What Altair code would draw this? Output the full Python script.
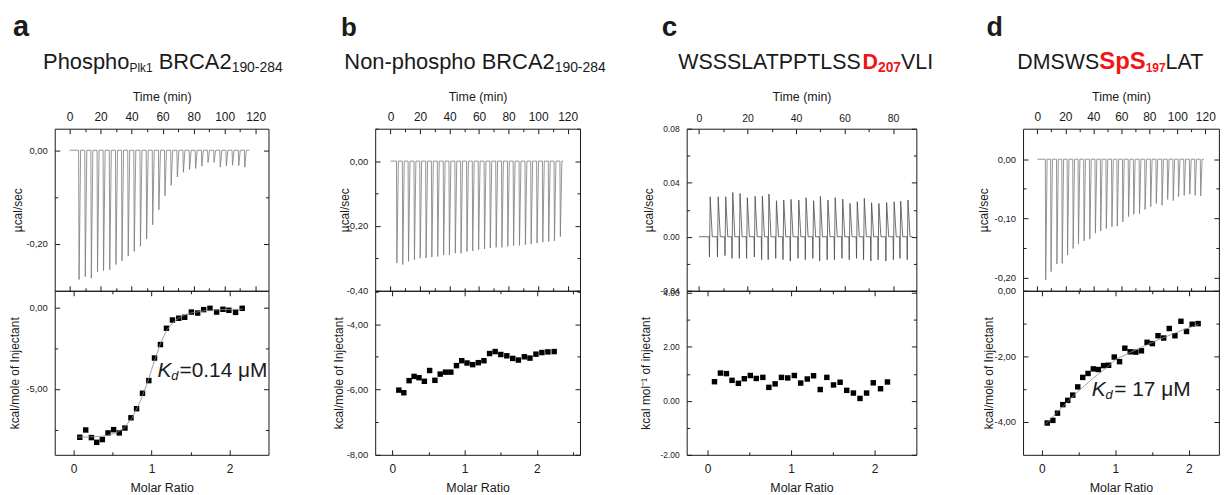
import json
import altair as alt
import pandas as pd

FONT = "Liberation Sans"
INK = "#1a1a1a"
TRACE = "#7a7a7a"
RED = "#f01414"

# ---------------- panel a : Phospho(Plk1) BRCA2 190-284 ----------------
a_inj_t = [5.8, 9.8, 13.7, 17.7, 21.6, 25.6, 29.6, 33.5, 37.5, 41.4, 45.4, 49.4, 53.3, 57.3,
           61.2, 65.2, 69.2, 73.1, 77.1, 81.0, 85.0, 89.0, 92.9, 96.9, 100.8, 104.8, 108.8, 112.7]
a_inj_peak = [-0.276, -0.270, -0.273, -0.260, -0.257, -0.255, -0.244, -0.236, -0.226, -0.216,
              -0.205, -0.189, -0.159, -0.127, -0.097, -0.075, -0.057, -0.047, -0.041, -0.039,
              -0.034, -0.026, -0.026, -0.036, -0.033, -0.032, -0.033, -0.036]
a_mr = [0.081, 0.157, 0.230, 0.298, 0.370, 0.443, 0.515, 0.587, 0.660, 0.737, 0.809, 0.885, 0.966, 1.039,
        1.115, 1.192, 1.269, 1.350, 1.426, 1.511, 1.592, 1.669, 1.750, 1.835, 1.916, 1.992, 2.078, 2.163]
a_heat = [-7.98, -7.53, -8.00, -8.29, -8.12, -7.71, -7.51, -7.71, -7.41, -6.78, -6.22, -5.27, -4.49, -3.10,
          -2.27, -1.27, -0.76, -0.65, -0.59, -0.27, -0.33, -0.12, -0.04, -0.27, -0.10, -0.16, -0.29, -0.04]
a_fit_mr = [0.05, 0.2, 0.35, 0.45, 0.55, 0.65, 0.75, 0.85, 0.95, 1.05, 1.12, 1.2, 1.3, 1.4, 1.5, 1.7, 1.9, 2.17]
a_fit = [-7.97, -7.96, -7.92, -7.85, -7.7, -7.4, -6.8, -5.85, -4.6, -3.1, -2.15, -1.35, -0.8, -0.5,
         -0.33, -0.18, -0.12, -0.09]

# ---------------- panel b : Non-phospho BRCA2 190-284 ----------------
b_inj_t = [4.0, 8.0, 11.9, 15.9, 19.8, 23.8, 27.7, 31.7, 35.7, 39.6, 43.6, 47.5, 51.5, 55.4, 59.4,
           63.4, 67.3, 71.3, 75.2, 79.2, 83.1, 87.1, 91.1, 95.0, 99.0, 102.9, 106.9, 110.8, 114.8]
b_inj_peak = [-0.314, -0.319, -0.309, -0.304, -0.299, -0.299, -0.296, -0.294, -0.289, -0.289, -0.284,
              -0.284, -0.279, -0.277, -0.273, -0.271, -0.268, -0.266, -0.266, -0.263, -0.261, -0.260,
              -0.258, -0.256, -0.253, -0.250, -0.248, -0.246, -0.233]
b_mr = [0.091, 0.160, 0.233, 0.302, 0.370, 0.444, 0.517, 0.590, 0.663, 0.737, 0.810, 0.888, 0.961, 1.034,
        1.112, 1.190, 1.268, 1.346, 1.423, 1.501, 1.584, 1.666, 1.744, 1.827, 1.904, 1.987, 2.069, 2.152, 2.239]
b_heat = [-6.02, -6.10, -5.73, -5.60, -5.64, -5.75, -5.42, -5.72, -5.53, -5.47, -5.47, -5.27, -5.12, -5.19,
          -5.24, -5.18, -5.12, -4.90, -4.84, -4.93, -4.97, -5.05, -5.10, -5.00, -5.04, -4.92, -4.87, -4.85, -4.84]

# ---------------- panel c : WSSSLATPPTLSSD207VLI ----------------
c_inj_t = [4.2, 7.5, 10.6, 13.5, 16.5, 19.5, 22.7, 25.7, 28.4, 31.5, 34.5, 37.5, 40.7, 43.7,
           46.8, 49.6, 52.7, 55.7, 58.8, 61.8, 64.8, 67.7, 70.7, 73.7, 76.9, 80.0, 82.7, 85.7]
c_inj_up = [0.0296, 0.0296, 0.0296, 0.0328, 0.0320, 0.0289, 0.0300, 0.0300, 0.0316, 0.0267, 0.0272, 0.0277,
            0.0272, 0.0289, 0.0267, 0.0299, 0.0272, 0.0289, 0.0279, 0.0247, 0.0259, 0.0284, 0.0252, 0.0247,
            0.0254, 0.0259, 0.0264, 0.0272]
c_inj_down = [-0.015, -0.015, -0.014, -0.016, -0.016, -0.016, -0.015, -0.017, -0.017, -0.016, -0.017, -0.018,
              -0.016, -0.017, -0.016, -0.018, -0.017, -0.017, -0.016, -0.017, -0.016, -0.017, -0.018, -0.017,
              -0.018, -0.017, -0.016, -0.017]
c_mr = [0.083, 0.154, 0.226, 0.293, 0.369, 0.440, 0.512, 0.583, 0.662, 0.734, 0.809, 0.885, 0.960, 1.039,
        1.115, 1.194, 1.269, 1.349, 1.428, 1.508, 1.587, 1.666, 1.746, 1.825, 1.904, 1.984, 2.071, 2.154]
c_heat = [0.71, 1.03, 1.01, 0.76, 0.65, 0.82, 0.94, 0.83, 0.87, 0.50, 0.63, 0.87, 0.85, 0.94,
          0.66, 0.81, 0.93, 0.42, 0.87, 0.59, 0.69, 0.39, 0.29, 0.09, 0.29, 0.67, 0.45, 0.70]

# ---------------- panel d : DMSWSSpS197LAT ----------------
d_inj_t = [5.7, 9.5, 13.7, 17.5, 21.3, 25.3, 29.1, 33.1, 37.2, 41.2, 45.0, 49.0, 53.0, 56.8, 60.8,
           64.9, 68.6, 72.7, 76.7, 80.7, 84.7, 88.8, 92.8, 96.8, 100.6, 104.6, 108.6, 112.4, 116.4]
d_inj_peak = [-0.204, -0.190, -0.177, -0.176, -0.162, -0.151, -0.143, -0.138, -0.135, -0.125, -0.121,
              -0.117, -0.114, -0.113, -0.106, -0.097, -0.093, -0.092, -0.085, -0.080, -0.075, -0.078,
              -0.068, -0.070, -0.063, -0.061, -0.059, -0.061, -0.062]
d_mr = [0.072, 0.149, 0.212, 0.285, 0.352, 0.420, 0.488, 0.556, 0.628, 0.700, 0.768, 0.840, 0.908, 0.985,
        1.057, 1.129, 1.202, 1.278, 1.355, 1.432, 1.504, 1.581, 1.658, 1.734, 1.811, 1.893, 1.969, 2.046, 2.127]
d_heat = [-4.03, -3.95, -3.73, -3.47, -3.34, -3.18, -2.93, -2.64, -2.52, -2.38, -2.40, -2.28, -2.27, -2.02,
          -2.16, -1.75, -1.86, -1.87, -1.83, -1.57, -1.61, -1.37, -1.44, -1.15, -1.37, -0.93, -1.24, -1.02, -1.00]
d_fit_mr = [0.05, 0.2, 0.35, 0.5, 0.7, 0.85, 1.0, 1.2, 1.4, 1.6, 1.8, 2.0, 2.13]
d_fit = [-4.07, -3.72, -3.38, -3.05, -2.66, -2.4, -2.1, -1.88, -1.68, -1.48, -1.3, -1.13, -1.03]

# ---------------- layout ----------------
W = [215, 206, 231, 197]
H_TOP, H_BOT = 163, 165
SPACING = 107.3

ARIAL = {" ": 278, "-": 333, "A": 667, "B": 667, "C": 722, "D": 722, "I": 278, "K": 667, "L": 556,
         "M": 833, "N": 722, "P": 667, "R": 722, "S": 667, "T": 611, "V": 667, "W": 944,
         "a": 556, "c": 500, "d": 556, "e": 556, "h": 556, "k": 500, "l": 222, "n": 556, "o": 556,
         "p": 556, "s": 500}
ARIAL_BOLD = {"D": 722, "S": 667, "p": 611}


def text_w(s, size, bold=False):
    tot = 0
    for ch in s:
        if ch.isdigit():
            tot += 556
        elif bold and ch in ARIAL_BOLD:
            tot += ARIAL_BOLD[ch]
        else:
            tot += ARIAL.get(ch, 556)
    return tot * size / 1000.0


ONE = pd.DataFrame({"k": [0]})


def txt(s, x, y, size, color=INK, weight="normal", style="normal"):
    return alt.Chart(ONE).mark_text(
        text=s, font=FONT, fontSize=size, fontWeight=weight, fontStyle=style, color=color,
        align="left", baseline="alphabetic"
    ).encode(x=alt.value(x), y=alt.value(y))


def seq_text(x0, segs):
    """Lay text pieces one after another; a leading space is turned into an advance."""
    out = []
    x = x0
    for s, size, color, weight, y in segs:
        if s.startswith(" "):
            x += text_w(" ", size)
            s = s.lstrip(" ")
        out.append(txt(s, x, y, size, color, weight))
        x += text_w(s, size, weight == "bold")
    return out


def trace_df(times, lows, t0, t1, highs=None):
    rows = [(t0, 0.0)]
    for i, t in enumerate(times):
        rows.append((t, 0.0))
        if highs is None:
            rows.append((t + 0.3, lows[i]))
        else:
            rows.append((t + 0.15, lows[i]))
            rows.append((t + 0.45, highs[i]))
        rows.append((t + 1.3, 0.0))
    rows.append((t1, 0.0))
    return pd.DataFrame(rows, columns=["x", "y"])


def fmt_expr(comma):
    core = "format(abs(datum.value), '.2f')"
    if comma:
        core = "replace(" + core + ", '.', ',')"
    return "(datum.value < 0 ? '-' : '') + " + core


def inward(orient, offset, majors, minors):
    return alt.Axis(
        orient=orient, offset=offset, values=sorted(majors + minors), labels=False,
        domain=False, grid=False, title=None, ticks=True, tickColor=INK, tickWidth=1,
        tickSize={"condition": {"test": "indexof(" + json.dumps(majors) + ", datum.value) >= 0",
                                "value": 5}, "value": 3},
    )


def x_label_axis(orient, majors, title, w, fs):
    top = orient == "top"
    return alt.Axis(
        orient=orient, values=majors, format="d", ticks=False, tickSize=0, domain=False, grid=False,
        labelFont=FONT, labelFontSize=fs, labelColor=INK, labelPadding=5.5 if top else 8.5,
        labelFlush=False, labelOverlap=False,
        title=title, titleFont=FONT, titleFontSize=12.5, titleFontWeight="normal", titleColor=INK,
        titleX=w / 2, titleY=-32 if top else 32.5, titleAlign="center", titleBaseline="middle",
        titleAngle=0,
    )


def y_label_axis(majors, title, tx, h, comma, fs, tfs):
    return alt.Axis(
        orient="left", values=majors, labelExpr=fmt_expr(comma), ticks=False, tickSize=0,
        domain=False, grid=False, labelFont=FONT, labelFontSize=fs, labelColor=INK, labelPadding=7.5,
        labelOverlap=False,
        title=title, titleFont=FONT, titleFontSize=tfs, titleFontWeight="normal", titleColor=INK,
        titleX=tx, titleY=h / 2, titleAlign="center", titleBaseline="middle", titleAngle=270,
    )


def panel(df, kind, xdom, ydom, w, h, xmaj, xmin, ymaj, ymin, xorient, xtitle, ytitle, ytx,
          comma, xfs, yfs, ytfs, extras=(), trace_color=TRACE):
    xs = alt.Scale(domain=xdom, nice=False, zero=False)
    ys = alt.Scale(domain=ydom, nice=False, zero=False)
    if kind == "line":
        mark = alt.Chart(df).mark_line(color=trace_color, strokeWidth=0.8)
    else:
        mark = alt.Chart(df).mark_square(size=30, color="black", opacity=1)
    main = mark.encode(
        x=alt.X("x:Q", scale=xs, axis=x_label_axis(xorient, xmaj, xtitle, w, xfs)),
        y=alt.Y("y:Q", scale=ys, axis=y_label_axis(ymaj, ytitle, ytx, h, comma, yfs, ytfs)),
    )
    g1 = alt.Chart(df).mark_point(opacity=0).encode(
        x=alt.X("x:Q", scale=xs, axis=inward("bottom", -h, xmaj, xmin)),
        y=alt.Y("y:Q", scale=ys, axis=inward("right", -w, ymaj, ymin)),
    )
    g2 = alt.Chart(df).mark_point(opacity=0).encode(
        x=alt.X("x:Q", scale=xs, axis=inward("top", -h, xmaj, xmin)),
        y=alt.Y("y:Q", scale=ys, axis=inward("left", -w, ymaj, ymin)),
    )
    layers = [main, g1, g2]
    for e in extras:
        layers.append(e(xs, ys) if callable(e) else e)
    return alt.layer(*layers).resolve_axis(x="independent", y="independent").properties(width=w, height=h)


def fit_layer(mr, val):
    fdf = pd.DataFrame({"x": mr, "y": val})

    def mk(xs, ys):
        return alt.Chart(fdf).mark_line(color="#8a8a8a", strokeWidth=0.8).encode(
            x=alt.X("x:Q", scale=xs, axis=None), y=alt.Y("y:Q", scale=ys, axis=None))
    return mk


T_MAJ = [0, 20, 40, 60, 80, 100, 120]
T_MIN = [10, 30, 50, 70, 90, 110]
MR_MAJ = [0, 1, 2]
MR_MIN = [0.5, 1.5]
TITLE_Y, SUB_Y, LETTER_Y = -60, -57.5, -93
YT = 12  # µcal/sec title size

# ---- a ----
a_top = panel(
    trace_df(a_inj_t, a_inj_peak, 0.0, 116.0), "line", [-9.6, 128.3], [-0.30, 0.046], W[0], H_TOP,
    T_MAJ, T_MIN, [0.0, -0.2], [-0.1], "top", "Time (min)", "µcal/sec", -37, True, 12, 9.5, YT,
    extras=[txt("a", -42, LETTER_Y, 29, weight="bold")] + seq_text(-11.7, [
        ("Phospho", 22, INK, "normal", TITLE_Y), ("Plk1", 12, INK, "normal", SUB_Y),
        (" BRCA2", 22, INK, "normal", TITLE_Y), ("190-284", 14, INK, "normal", SUB_Y)]),
)
a_bot = panel(
    pd.DataFrame({"x": a_mr, "y": a_heat}), "square", [-0.24, 2.5], [-9.06, 1.04], W[0], H_BOT,
    MR_MAJ, MR_MIN, [0.0, -5.0], [-2.5, -7.5], "bottom", "Molar Ratio", "kcal/mole of Injectant",
    -40, True, 12, 9.5, 12,
    extras=[fit_layer(a_fit_mr, a_fit),
            txt("K", 103.3, 87, 21, style="italic"), txt("d", 117.3, 90, 13, style="italic"),
            txt("=0.14 μM", 125.5, 87, 21)],
)

# ---- b ----
b_top = panel(
    trace_df(b_inj_t, b_inj_peak, 0.0, 117.0), "line", [-10.4, 128.4], [-0.40, 0.10], W[1], H_TOP,
    T_MAJ, T_MIN, [0.0, -0.2, -0.4], [0.1, -0.1, -0.3], "top", "Time (min)", "µcal/sec", -30.5,
    True, 12, 9.5, YT,
    extras=[txt("b", -34.5, LETTER_Y, 26, weight="bold")] + seq_text(-31, [
        ("Non-phospho", 22, INK, "normal", TITLE_Y), (" BRCA2", 22, INK, "normal", TITLE_Y),
        ("190-284", 14, INK, "normal", SUB_Y)]),
)
b_bot = panel(
    pd.DataFrame({"x": b_mr, "y": b_heat}), "square", [-0.236, 2.596], [-8.0, -2.98], W[1], H_BOT,
    MR_MAJ, MR_MIN + [2.5], [-4.0, -6.0, -8.0], [-3.0, -5.0, -7.0], "bottom", "Molar Ratio",
    "kcal/mole of Injectant", -37, True, 12, 9.5, 12,
)

# ---- c ----
c_top = panel(
    trace_df(c_inj_t, c_inj_down, 0.0, 88.0, highs=c_inj_up), "line", [-5.04, 89.6], [-0.04, 0.08],
    W[2], H_TOP, [0, 20, 40, 60, 80], [10, 30, 50, 70], [0.08, 0.04, 0.0, -0.04], [0.06, 0.02, -0.02],
    "top", "Time (min)", "µcal/sec", -38, False, 10.5, 8.5, YT,
    extras=[txt("c", -25, LETTER_Y, 28, weight="bold")] + seq_text(-8.4, [
        ("WSSSLATPPTLSS", 21.5, INK, "normal", TITLE_Y), ("D", 21.5, RED, "bold", TITLE_Y),
        ("207", 14, RED, "bold", SUB_Y), ("VLI", 21.5, INK, "normal", TITLE_Y)]),
    trace_color="#4a4a4a",
)
c_bot = panel(
    pd.DataFrame({"x": c_mr, "y": c_heat}), "square", [-0.25, 2.5], [-2.0, 4.08], W[2], H_BOT,
    MR_MAJ, MR_MIN, [4.0, 2.0, 0.0, -2.0], [3.0, 1.0, -1.0], "bottom", "Molar Ratio",
    "kcal mol⁻¹ of injectant", -41.5, False, 12, 8.5, 12,
)

# ---- d ----
d_top = panel(
    trace_df(d_inj_t, d_inj_peak, 0.0, 119.0), "line", [-10.2, 129.7], [-0.2224, 0.0516], W[3], H_TOP,
    T_MAJ, T_MIN, [0.0, -0.1, -0.2], [-0.05, -0.15], "top", "Time (min)", "µcal/sec", -39.5,
    True, 12, 9.5, YT,
    extras=[txt("d", -36.7, LETTER_Y, 27, weight="bold")] + seq_text(-5.7, [
        ("DMSWS", 21.5, INK, "normal", TITLE_Y), ("SpS", 24, RED, "bold", TITLE_Y),
        ("197", 12, RED, "bold", SUB_Y), ("LAT", 21.5, INK, "normal", TITLE_Y)]),
)
d_bot = panel(
    pd.DataFrame({"x": d_mr, "y": d_heat}), "square", [-0.257, 2.41], [-5.0, 0.0], W[3], H_BOT,
    MR_MAJ, MR_MIN, [0.0, -2.0, -4.0], [-1.0, -3.0], "bottom", "Molar Ratio",
    "kcal/mole of Injectant", -34.5, True, 12, 9.5, 12,
    extras=[fit_layer(d_fit_mr, d_fit),
            txt("K", 69, 106.3, 21, style="italic"), txt("d", 83, 109, 13, style="italic"),
            txt("= 17 μM", 91.7, 106.3, 21)],
)

chart = (
    alt.concat(a_top, b_top, c_top, d_top, a_bot, b_bot, c_bot, d_bot,
               columns=4, spacing={"row": 0, "column": SPACING}, bounds="flush")
    .resolve_scale(x="independent", y="independent")
    .configure_view(stroke=INK, strokeWidth=1)
    .properties(padding={"left": 0, "top": 3, "right": 0, "bottom": 0}, background="white")
)

chart.save("out.html", embed_options={"renderer": "svg", "actions": False})
